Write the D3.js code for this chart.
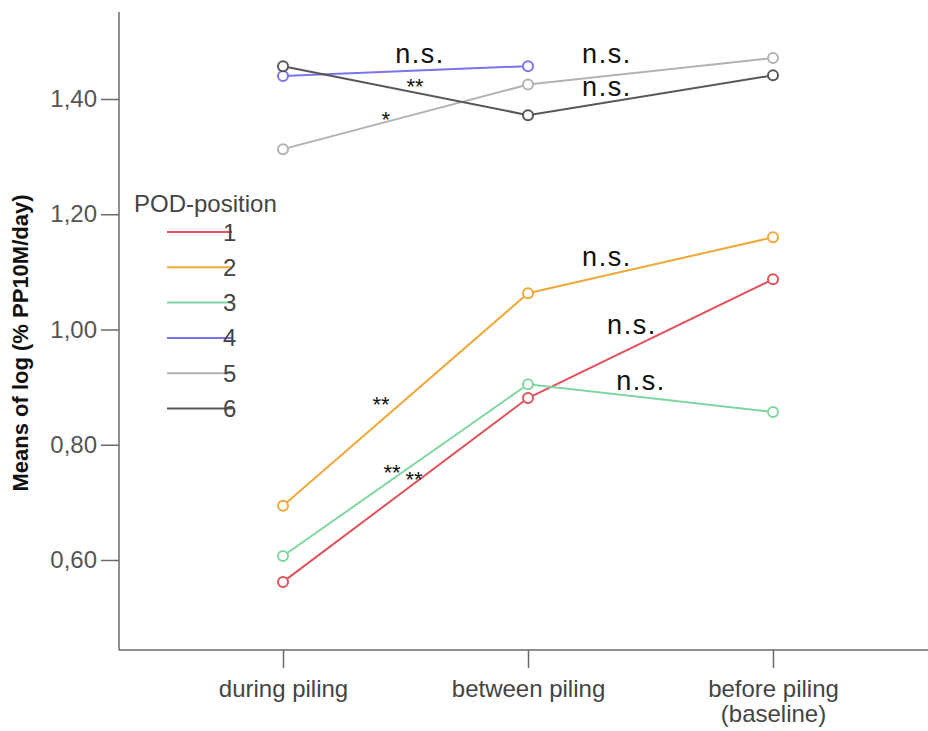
<!DOCTYPE html>
<html><head><meta charset="utf-8">
<script src="https://cdn.jsdelivr.net/npm/d3@7"></script>
<style>body{margin:0;background:#fff}svg{display:block}text{font-family:Arial,'Liberation Sans',sans-serif}</style>
</head><body>
<script>
const categories = ["during piling", "between piling", "before piling\n(baseline)"];
const seriesNames = ["1", "2", "3", "4", "5", "6"];
const s1 = [0.562, 0.881, 1.087];
const s2 = [0.694, 1.063, 1.160];
const s3 = [0.607, 0.905, 0.857];
const s4 = [1.440, 1.457, null];
const s5 = [1.313, 1.425, 1.471];
const s6 = [1.457, 1.372, 1.441];
const seriesColors = ["#e0525c", "#f0a838", "#7ed7a0", "#7b74ec", "#b2b2b2", "#575757"];
const yTicks = [0.6, 0.8, 1.0, 1.2, 1.4];
const annotations = [
  {t:"n.s.", cat:0.559, v:1.474},
  {t:"**", cat:0.539, v:1.418},
  {t:"*", cat:0.42, v:1.362},
  {t:"n.s.", cat:1.322, v:1.474},
  {t:"n.s.", cat:1.322, v:1.417},
  {t:"n.s.", cat:1.322, v:1.122},
  {t:"n.s.", cat:1.424, v:1.004},
  {t:"n.s.", cat:1.461, v:0.907},
  {t:"**", cat:0.4, v:0.867},
  {t:"**", cat:0.445, v:0.749},
  {t:"**", cat:0.535, v:0.736}
];
const allSeries = [s1, s2, s3, s4, s5, s6];

const W = 928, H = 731;
const svg = d3.select("body").append("svg").attr("width", W).attr("height", H);

const x = d3.scalePoint().domain([0,1,2]).range([283, 773]);
const xc = d3.scaleLinear().domain([0,2]).range([283, 773]);
const y = d3.scaleLinear().domain([0.6, 1.4]).range([560, 99]);
const yTop = 0.6 + (560-12)/((560-99)/0.8);
const yBot = 0.6 - (650-560)/((560-99)/0.8);

const axisColor = "#6a6a6a";
svg.append("line").attr("x1",119).attr("x2",119).attr("y1",y(yTop)).attr("y2",y(yBot))
  .attr("stroke",axisColor).attr("stroke-width",1.5);
svg.append("line").attr("x1",119).attr("x2",W).attr("y1",y(yBot)).attr("y2",y(yBot))
  .attr("stroke",axisColor).attr("stroke-width",1.5);

const yAxis = d3.axisLeft(y).tickValues(yTicks).tickSize(18).tickPadding(4)
  .tickFormat(d => d3.format(".2f")(d).replace(".", ","));
const gy = svg.append("g").attr("transform","translate(119,0)").call(yAxis)
  .attr("font-family", null).attr("font-size", null);
gy.select(".domain").remove();
gy.selectAll(".tick line").attr("stroke",axisColor).attr("stroke-width",1.5);
gy.selectAll(".tick text").attr("fill","#555").style("font-size","24px");

const xAxis = d3.axisBottom(x).tickSize(18).tickFormat(() => "");
const gx = svg.append("g").attr("transform",`translate(0,${y(yBot)})`).call(xAxis)
  .attr("font-family", null).attr("font-size", null);
gx.select(".domain").remove();
gx.selectAll(".tick line").attr("stroke",axisColor).attr("stroke-width",1.5);
gx.selectAll(".tick").each(function(d){
  const lines = categories[d].split("\n");
  const t = d3.select(this).append("text").attr("fill","#444").attr("text-anchor","middle")
    .style("font-size","24px");
  lines.forEach((l,i)=>t.append("tspan").attr("x",0).attr("y",47 + i*25).text(l));
});

svg.append("text").attr("transform","translate(28,343) rotate(-90)").attr("text-anchor","middle")
  .style("font-size","22px").style("font-weight","bold").attr("fill","#111")
  .text("Means of log (% PP10M/day)");

const line = d3.line().defined(d => d != null).x((d,i)=>x(i)).y(d=>y(d));
allSeries.forEach((s,k)=>{
  svg.append("path").datum(s).attr("d", line).attr("fill","none")
    .attr("stroke",seriesColors[k]).attr("stroke-width",2);
});
allSeries.forEach((s,k)=>{
  svg.append("g").selectAll("circle").data(s.map((v,i)=>({v,i})).filter(d=>d.v!=null))
    .join("circle").attr("cx",d=>x(d.i)).attr("cy",d=>y(d.v)).attr("r",5)
    .attr("fill","#fff").attr("stroke",seriesColors[k]).attr("stroke-width",2);
});

annotations.forEach(a=>{
  const big = a.t === "n.s.";
  svg.append("text").attr("x",xc(a.cat)).attr("y",y(a.v)).attr("text-anchor","middle")
    .attr("dominant-baseline","middle").attr("fill","#111")
    .style("letter-spacing", big ? "1.5px" : "0px")
    .style("font-size", big ? "27px" : "22px").text(a.t);
});

svg.append("text").attr("x",134).attr("y",212).attr("fill","#444").style("font-size","24px")
  .text("POD-position");
seriesNames.forEach((n,k)=>{
  const ly = 232 + k*35.3;
  svg.append("line").attr("x1",167).attr("x2",232).attr("y1",ly).attr("y2",ly)
    .attr("stroke",seriesColors[k]).attr("stroke-width",2);
  svg.append("text").attr("x",223).attr("y",ly+8.5).attr("fill","#444").style("font-size","24px").text(n);
});
</script>
</body></html>
